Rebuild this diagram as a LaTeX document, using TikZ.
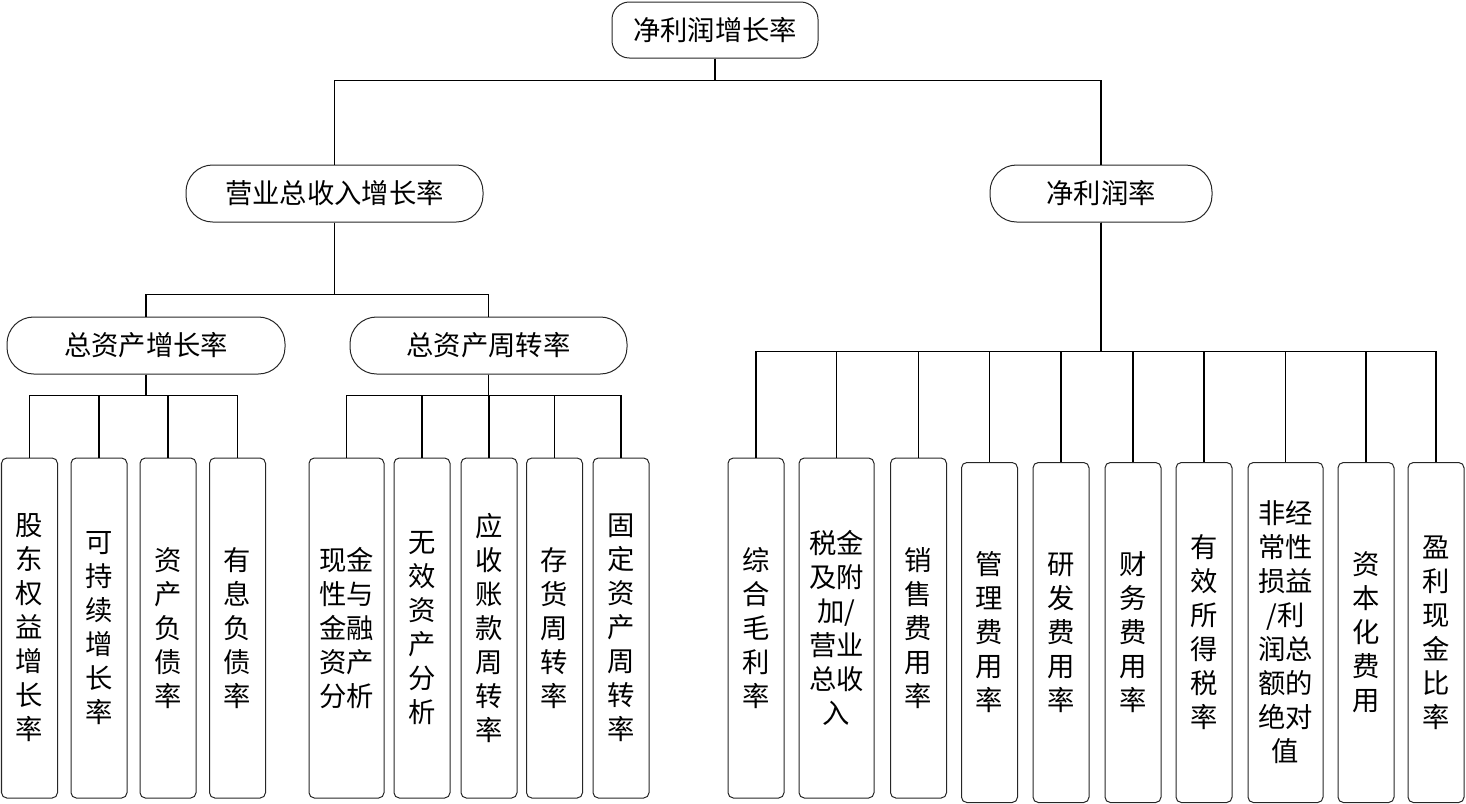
\documentclass[tikz,border=0pt]{standalone}
\usepackage{fontspec}
\newfontfamily\cjk{Noto Sans CJK SC}
\usetikzlibrary{positioning}
\tikzset {
    box/.style = {
        draw = black!85, line width = 0.75pt, inner sep = 0pt, align = center,
        font = \cjk\fontsize{20.5pt}{25.5pt}\selectfont
    },
    top box/.style = {box, rounded corners = 13pt, minimum width = 154.5pt, minimum height = 42pt},
    mid box/.style = {box, rounded corners = 20pt, minimum width = #1, minimum height = 42.75pt},
    leaf/.style = {box, rounded corners = 4pt, minimum width = 42pt, minimum height = 255pt},
    wide leaf/.style = {leaf, minimum width = 56.25pt},
    link/.style = {line width = 0.8pt}
}
\begin{document}
\begin{tikzpicture}[x = 0.75pt, y = -0.75pt]
    \useasboundingbox (0, 0) rectangle (1466, 803);
    % top levels
    \node (root) [top box] at (715, 30) {净利润增长率};
    \node (rev) [mid box = 222.75pt] at (334.5, 193.5) {营业总收入增长率};
    \node (npm) [mid box = 166.5pt] at (1101, 193.5) {净利润率};
    \node (tag) [mid box = 208.5pt] at (146, 345.5) {总资产增长率};
    \node (tat) [mid box = 207.75pt] at (488.5, 345.5) {总资产周转率};
    % growth leaves
    \node (a1) [leaf] at (29.5, 628) {股\\东\\权\\益\\增\\长\\率};
    \node (a2) [leaf] at (99, 628) {可\\持\\续\\增\\长\\率};
    \node (a3) [leaf] at (168, 628) {资\\产\\负\\债\\率};
    \node (a4) [leaf] at (237.5, 628) {有\\息\\负\\债\\率};
    % turnover leaves
    \node (b1) [wide leaf] at (346.5, 628) {现金\\性与\\金融\\资产\\分析};
    \node (b2) [leaf] at (422, 628) {无\\效\\资\\产\\分\\析};
    \node (b3) [leaf] at (489, 628) {应\\收\\账\\款\\周\\转\\率};
    \node (b4) [leaf] at (554.5, 628) {存\\货\\周\\转\\率};
    \node (b5) [leaf] at (621, 628) {固\\定\\资\\产\\周\\转\\率};
    % margin leaves
    \node (c1) [leaf] at (756, 628) {综\\合\\毛\\利\\率};
    \node (c2) [wide leaf] at (836.5, 628) {税金\\及附\\加/\\营业\\总收\\入};
    \node (c3) [leaf] at (918.5, 628) {销\\售\\费\\用\\率};
    \node (c4) [leaf] at (989.5, 632.5) {管\\理\\费\\用\\率};
    \node (c5) [leaf] at (1061, 632.5) {研\\发\\费\\用\\率};
    \node (c6) [leaf] at (1133, 632.5) {财\\务\\费\\用\\率};
    \node (c7) [leaf] at (1204, 632.5) {有\\效\\所\\得\\税\\率};
    \node (c8) [wide leaf] at (1285.5, 632.5) {非经\\常性\\损益\\/利\\润总\\额的\\绝对\\值};
    \node (c9) [leaf] at (1366, 632.5) {资\\本\\化\\费\\用};
    \node (c10) [leaf] at (1436, 632.5) {盈\\利\\现\\金\\比\\率};
    % connectors
    \foreach \n in {rev, npm}
        \draw [link] (root.south) -- ++(0, 22) -| (\n.north);
    \foreach \n in {tag, tat}
        \draw [link] (rev.south) -- ++(0, 72) -| (\n.north);
    \foreach \n in {a1, a2, a3, a4}
        \draw [link] (tag.south) -- ++(0, 21) -| (\n.north);
    \foreach \n in {b1, b2, b3, b4, b5}
        \draw [link] (tat.south) -- ++(0, 21) -| (\n.north);
    \foreach \n in {c1, c2, c3, c4, c5, c6, c7, c8, c9, c10}
        \draw [link] (npm.south) -- ++(0, 129) -| (\n.north);
\end{tikzpicture}
\end{document}
